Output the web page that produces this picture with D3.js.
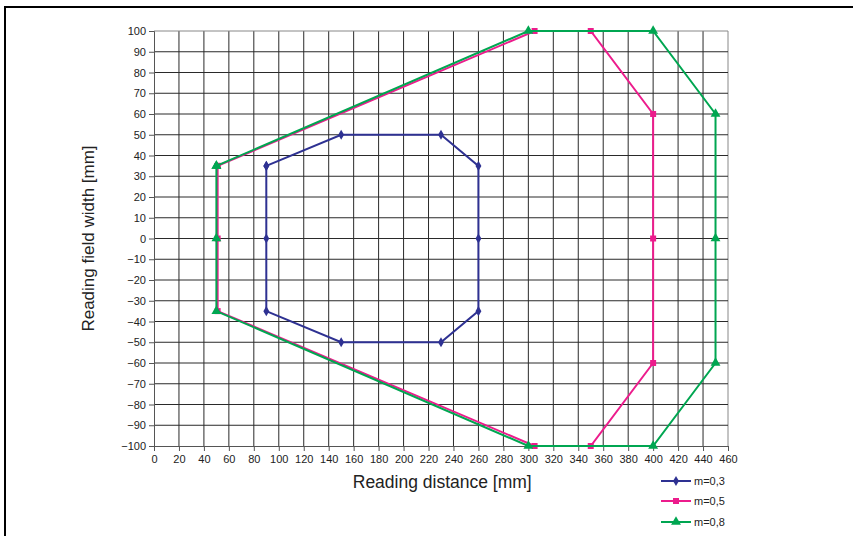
<!DOCTYPE html>
<html>
<head>
<meta charset="utf-8">
<script src="https://cdn.jsdelivr.net/npm/d3@7"></script>
<style>
  html, body { margin: 0; padding: 0; background: #fff; }
  svg { display: block; }
  text { font-family: "Liberation Sans", Arial, sans-serif; fill: #222; }
</style>
</head>
<body>
<div id="chart"></div>
<script>
// Reading field outlines for three module sizes (distance / width in mm)
const seriesNames = ["m=0,3", "m=0,5", "m=0,8"];
const seriesColors = ["#2e3192", "#ec1c8c", "#00a651"];
const seriesMarkers = ["diamond", "square", "triangle"];

const distM03 = [90, 150, 230, 260, 260, 260, 230, 150, 90, 90, 90];
const widthM03 = [35, 50, 50, 35, 0, -35, -50, -50, -35, 0, 35];

const distM05 = [51, 305, 350, 400, 400, 400, 350, 305, 51, 51, 51];
const widthM05 = [35, 100, 100, 60, 0, -60, -100, -100, -35, 0, 35];

const distM08 = [50, 300, 400, 450, 450, 450, 400, 300, 50, 50, 50];
const widthM08 = [35, 100, 100, 60, 0, -60, -100, -100, -35, 0, 35];

const xTicks = d3.range(0, 461, 20);
const yTicks = d3.range(-100, 101, 10);

const W = 853, H = 536;
const margin = { left: 154, right: W - 728, top: 31, bottom: H - 446 };

const svg = d3.select("#chart").append("svg").attr("width", W).attr("height", H);

// outer frame (top and left edges)
svg.append("path")
  .attr("d", `M5,${H} L5,7 L${W},7`)
  .attr("fill", "none").attr("stroke", "#000").attr("stroke-width", 2);

const x = d3.scaleLinear().domain([0, 460]).range([margin.left, W - margin.right]);
const y = d3.scaleLinear().domain([-100, 100]).range([H - margin.bottom, margin.top]);

const g = svg.append("g");

// grid
g.append("g").selectAll("line").data(xTicks.slice(1)).join("line")
  .attr("x1", d => x(d)).attr("x2", d => x(d))
  .attr("y1", y(-100)).attr("y2", y(100))
  .attr("stroke", d => d === 460 ? "#888" : "#2a2a2a").attr("stroke-width", 1);
g.append("g").selectAll("line").data(yTicks.slice(1)).join("line")
  .attr("x1", x(0)).attr("x2", x(460))
  .attr("y1", d => y(d)).attr("y2", d => y(d))
  .attr("stroke", d => d === 100 ? "#888" : "#2a2a2a").attr("stroke-width", 1);

// axes
const xAxis = d3.axisBottom(x).tickValues(xTicks).tickSize(5).tickPadding(4);
const yAxis = d3.axisLeft(y).tickValues(yTicks).tickSize(5).tickPadding(3);

const gx = svg.append("g").attr("transform", `translate(0,${y(-100)})`).call(xAxis);
const gy = svg.append("g").attr("transform", `translate(${x(0)},0)`).call(yAxis);
[gx, gy].forEach(a => {
  a.select(".domain").attr("stroke", "#555");
  a.selectAll(".tick line").attr("stroke", "#555");
  a.selectAll(".tick text").attr("font-size", 11)
    .attr("font-family", "'Liberation Sans', Arial, sans-serif").attr("fill", "#222");
});

// axis titles
svg.append("text")
  .attr("x", x(231)).attr("y", 488)
  .attr("text-anchor", "middle").attr("font-size", 17.5)
  .text("Reading distance [mm]");
svg.append("text")
  .attr("transform", `translate(94,${y(0)}) rotate(-90)`)
  .attr("text-anchor", "middle").attr("font-size", 17)
  .text("Reading field width [mm]");

// series
const series = [
  { xs: distM03, ys: widthM03 },
  { xs: distM05, ys: widthM05 },
  { xs: distM08, ys: widthM08 }
];

function markerPath(kind) {
  if (kind === "diamond") return d3.symbol(d3.symbolDiamond, 30)();
  if (kind === "square") return d3.symbol(d3.symbolSquare, 36)();
  return d3.symbol(d3.symbolTriangle, 42)();
}

const line = d3.line().x(d => x(d[0])).y(d => y(d[1]));

series.forEach((s, i) => {
  const pts = s.xs.map((v, k) => [v, s.ys[k]]);
  const sg = svg.append("g");
  sg.append("path").attr("d", line(pts))
    .attr("fill", "none").attr("stroke", seriesColors[i]).attr("stroke-width", 2);
  sg.selectAll("path.mk").data(pts).join("path").attr("class", "mk")
    .attr("transform", d => `translate(${x(d[0])},${y(d[1])})`)
    .attr("d", markerPath(seriesMarkers[i]))
    .attr("fill", seriesColors[i]);
});

// legend
const legend = svg.append("g");
const legendY = [481, 501, 522];
seriesNames.forEach((name, i) => {
  const lg = legend.append("g").attr("transform", `translate(661,${legendY[i]})`);
  lg.append("line").attr("x1", 0).attr("x2", 30).attr("y1", 0).attr("y2", 0)
    .attr("stroke", seriesColors[i]).attr("stroke-width", 2);
  lg.append("path").attr("transform", "translate(15,0)")
    .attr("d", markerPath(seriesMarkers[i])).attr("fill", seriesColors[i]);
  lg.append("text").attr("x", 33).attr("y", 4).attr("font-size", 11).text(name);
});
</script>
</body>
</html>
